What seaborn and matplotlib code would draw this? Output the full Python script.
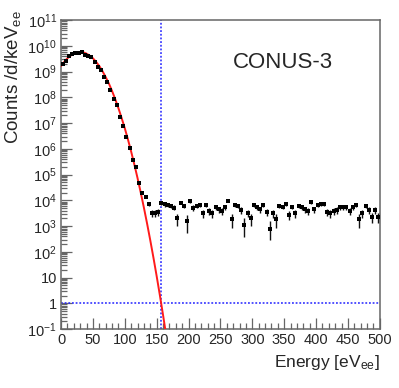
import numpy as np
import matplotlib
matplotlib.use("Agg")
import matplotlib.pyplot as plt
from matplotlib.ticker import FixedLocator, FixedFormatter, MultipleLocator
import seaborn as sns

# bin centres [eV_ee], 5 eV bins
energy = np.arange(2.5, 500, 5.0)

peak_log10 = [9.30, 9.42, 9.60, 9.70, 9.72, 9.73, 9.76, 9.66, 9.60, 9.55,
              9.38, 9.20, 9.08, 8.78, 8.60, 8.27, 7.95, 7.70, 7.25, 6.90,
              6.45, 6.02, 5.58, 5.28, 4.66, 4.27, 4.12]
bg_log10 = [3.85, 3.50, 3.50, 3.55, 3.88, 3.84, 3.82, 3.79, 3.72, 3.30,
            3.91, 3.79, 3.20, 3.97, 3.71, 3.79,
            3.82, 3.49, 3.82, 3.59, 3.49, 3.73, 3.65, 3.59, 3.73, 3.98,
            3.26, 3.82, 3.78, 3.62, 3.04, 3.52, 3.30, 3.82, 3.73, 3.65,
            3.82, 3.56, 2.90, 3.49, 3.26, 3.78, 3.75, 3.85, 3.43, 3.75,
            3.49, 3.78, 3.73, 3.65, 3.59, 3.94, 3.65, 3.82, 3.85, 3.85,
            3.56, 3.49, 3.59, 3.62, 3.73, 3.73, 3.73, 3.59, 3.73, 3.82,
            3.26, 3.49, 3.78, 3.62, 3.36, 3.62, 3.36]
# uncertainties in counts / d / keV_ee for the background bins
bg_err = [1200, 1000, 1000, 1000, 1200, 1200, 1200, 1200, 1200, 1000,
          1200, 1200, 1100, 1200, 1200, 1200,
          1200, 1000, 1200, 1100, 1000, 1200, 1100, 1100, 1200, 1300,
          1000, 1200, 1200, 1100, 900, 1000, 1000, 1200, 1200, 1100,
          1200, 1100, 800, 1000, 1000, 1200, 1200, 1200, 1000, 1200,
          1000, 1200, 1200, 1100, 1100, 1200, 1100, 1200, 1200, 1200,
          1100, 1000, 1100, 1100, 1200, 1200, 1200, 1100, 1200, 1200,
          1000, 1000, 1200, 1100, 1000, 1100, 1000]

# fitted noise peak (red curve), log10 values every 5 eV
fit_energy = np.arange(0, 170, 5)
fit_log10 = [9.22, 9.38, 9.52, 9.62, 9.70, 9.75, 9.76, 9.75, 9.70, 9.62,
             9.52, 9.38, 9.22, 9.02, 8.79, 8.54, 8.25, 7.93, 7.58, 7.20,
             6.80, 6.36, 5.89, 5.39, 4.86, 4.30, 3.71, 3.09, 2.44, 1.76,
             1.05, 0.31, -0.46, -1.27]

threshold = 157.0  # eV_ee
level = 1.0

counts = 10 ** np.array(peak_log10 + bg_log10)
errs = np.concatenate([np.zeros(len(peak_log10)), bg_err])
fit = 10 ** np.array(fit_log10)

sns.set_theme(style="ticks")
plt.rcParams["font.family"] = ["Liberation Sans", "DejaVu Sans"]
plt.rcParams["mathtext.fontset"] = "custom"
plt.rcParams["mathtext.rm"] = "Liberation Sans"
plt.rcParams["mathtext.it"] = "Liberation Sans:italic"

fig = plt.figure(figsize=(3.99, 3.88), dpi=100)
ax = fig.add_axes([0.153, 0.152, 0.799, 0.796])

sns.lineplot(x=fit_energy, y=fit, color="#ff1a1a", lw=1.4, ax=ax, zorder=3)

lower = np.minimum(errs, counts * 0.65)
ax.errorbar(energy, counts, yerr=[lower, errs], xerr=1.3, fmt="s",
            ms=2.5, mew=0, color="black", ecolor="#111111", elinewidth=1.0,
            capsize=0, zorder=4)

ax.axvline(threshold, color="#2222ff", ls=(0, (1.2, 1.2)), lw=1.1, zorder=2)
ax.axhline(level, color="#2222ff", ls=(0, (1.2, 1.2)), lw=1.1, zorder=2)

ax.set_yscale("log")
ax.set_xlim(0, 500)
ax.set_ylim(0.1, 1e11)

decades = list(range(-1, 12))
labels = []
for k in decades:
    if k == 0:
        labels.append("1")
    elif k == 1:
        labels.append("10")
    else:
        labels.append(f"$10^{{{k}}}$")
ax.yaxis.set_major_locator(FixedLocator([10.0 ** k for k in decades]))
ax.yaxis.set_major_formatter(FixedFormatter(labels))
minors = [s * 10.0 ** k for k in range(-1, 11) for s in range(2, 10)]
ax.yaxis.set_minor_locator(FixedLocator(minors))
ax.xaxis.set_major_locator(MultipleLocator(50))
ax.xaxis.set_minor_locator(MultipleLocator(10))

ax.tick_params(which="both", direction="in", top=False, right=False,
               labelsize=10.5, color="#666666", width=0.9, pad=3)
ax.tick_params(which="major", length=8)
ax.tick_params(which="minor", length=4)

for sp in ax.spines.values():
    sp.set_color("#666666")
    sp.set_linewidth(1.1)
    sp.set_visible(True)

ax.set_xlabel("Energy [eV$_{\\mathregular{ee}}$]", loc="right", fontsize=12.5)
ax.set_ylabel("Counts /d/keV$_{\\mathregular{ee}}$", loc="top", fontsize=13.5)
ax.yaxis.set_label_coords(-0.118, 1.032)

ax.text(0.696, 0.864, "CONUS-3", transform=ax.transAxes, ha="center",
        va="center", fontsize=16)

fig.savefig("out.png", dpi=100)
